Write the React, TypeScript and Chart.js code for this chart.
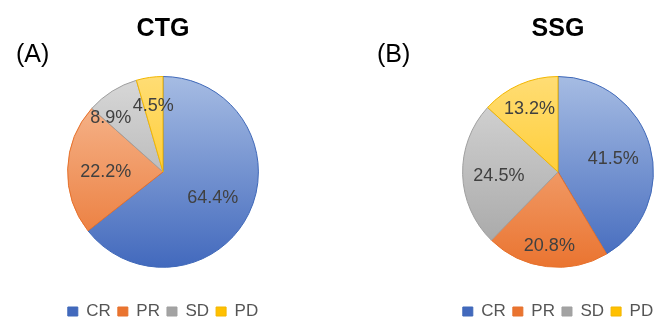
import React, { useEffect, useRef } from "react";
import { Chart, registerables } from "chart.js";

Chart.register(...registerables);

const categories = ["CR", "PR", "SD", "PD"];
const ctgValues = [64.4, 22.2, 8.9, 4.5];
const ssgValues = [41.5, 20.8, 24.5, 13.2];
const titles = ["CTG", "SSG"];
const panelLabels = ["(A)", "(B)"];

const lightColors = ["#a6bce3", "#f7bd98", "#d8d8d8", "#ffdd75"];
const darkColors = ["#4269bd", "#ea7430", "#a3a3a3", "#ffc000"];
const borderColors = ["#3f68b8", "#e6712c", "#9f9f9f", "#f2b600"];

const FONT = "'Liberation Sans', Arial, sans-serif";

const labelPlugin = {
  id: "sliceLabels",
  afterDatasetsDraw(chart: any) {
    const opts = chart.options.plugins.sliceLabels || {};
    const radii: number[] = opts.radii || [];
    const shifts: number[] = opts.shifts || [];
    const ctx = chart.ctx;
    const meta = chart.getDatasetMeta(0);
    const data = chart.data.datasets[0].data as number[];
    ctx.save();
    ctx.font = `18px ${FONT}`;
    ctx.fillStyle = "#404040";
    ctx.textAlign = "center";
    ctx.textBaseline = "middle";
    meta.data.forEach((arc: any, i: number) => {
      const p = arc.getProps(["x", "y", "startAngle", "endAngle", "outerRadius"], true);
      const mid = (p.startAngle + p.endAngle) / 2 + ((shifts[i] || 0) * Math.PI) / 180;
      const f = radii[i] ?? 0.62;
      const x = p.x + Math.cos(mid) * p.outerRadius * f;
      const y = p.y + Math.sin(mid) * p.outerRadius * f + 2;
      ctx.fillText(data[i].toFixed(1) + "%", x, y);
    });
    ctx.restore();
  },
};

function makeGradient(chart: any, i: number) {
  const area = chart.chartArea;
  if (!area) return darkColors[i];
  const g = chart.ctx.createLinearGradient(0, area.top, 0, area.bottom);
  g.addColorStop(0, lightColors[i]);
  g.addColorStop(1, darkColors[i]);
  return g;
}

function PieChart({
  values,
  title,
  radii,
  shifts,
}: {
  values: number[];
  title: string;
  radii: number[];
  shifts: number[];
}) {
  const ref = useRef<HTMLCanvasElement>(null);
  useEffect(() => {
    if (!ref.current) return;
    const chart = new Chart(ref.current, {
      type: "pie",
      data: {
        labels: categories,
        datasets: [
          {
            data: values,
            backgroundColor: (c: any) => makeGradient(c.chart, c.dataIndex),
            borderColor: borderColors,
            borderWidth: 1,
          },
        ],
      },
      options: {
        animation: false,
        responsive: false,
        maintainAspectRatio: false,
        layout: { padding: { top: 0, bottom: -8, left: 0, right: 0 } },
        plugins: {
          tooltip: { enabled: false },
          title: {
            display: true,
            text: title,
            color: "#000000",
            font: { family: FONT, size: 25, weight: "bold" },
            padding: { top: 14, bottom: 32 },
          },
          legend: {
            display: true,
            position: "bottom",
            title: {
              display: true,
              text: " ",
              font: { size: 1 },
              padding: { top: 27, bottom: 0 },
            },
            labels: {
              color: "#555555",
              font: { family: FONT, size: 17 },
              boxWidth: 10,
              boxHeight: 9,
              padding: 7,
              generateLabels: (ch: any) =>
                categories.map((name, i) => ({
                  text: name,
                  fillStyle: makeGradient(ch, i),
                  strokeStyle: borderColors[i],
                  fontColor: "#555555",
                  lineWidth: 1,
                  index: i,
                  datasetIndex: 0,
                  hidden: false,
                })),
            },
          },
          sliceLabels: { radii, shifts },
        } as any,
      },
      plugins: [labelPlugin],
    });
    return () => chart.destroy();
  }, [values, title]);
  return <canvas ref={ref} width={326} height={322} style={{ display: "block" }} />;
}

export default function App() {
  useEffect(() => {
    document.body.style.margin = "0";
  }, []);
  const textStyle: React.CSSProperties = {
    position: "absolute",
    fontFamily: FONT,
    fontSize: 25,
    color: "#000",
    lineHeight: "30px",
  };
  return (
    <div style={{ position: "relative", width: 670, height: 322, background: "#fff", overflow: "hidden" }}>
      <div style={{ position: "absolute", left: 0, top: 0 }}>
        <PieChart
          values={ctgValues}
          title={titles[0]}
          radii={[0.58, 0.6, 0.8, 0.72]}
          shifts={[0, 0, -11, 0]}
        />
      </div>
      <div style={{ position: "absolute", left: 395, top: 0 }}>
        <PieChart
          values={ssgValues}
          title={titles[1]}
          radii={[0.6, 0.76, 0.62, 0.74]}
          shifts={[0, 0, 0, 0]}
        />
      </div>
      <div style={{ ...textStyle, left: 16, top: 38 }}>{panelLabels[0]}</div>
      <div style={{ ...textStyle, left: 377, top: 38 }}>{panelLabels[1]}</div>
    </div>
  );
}
